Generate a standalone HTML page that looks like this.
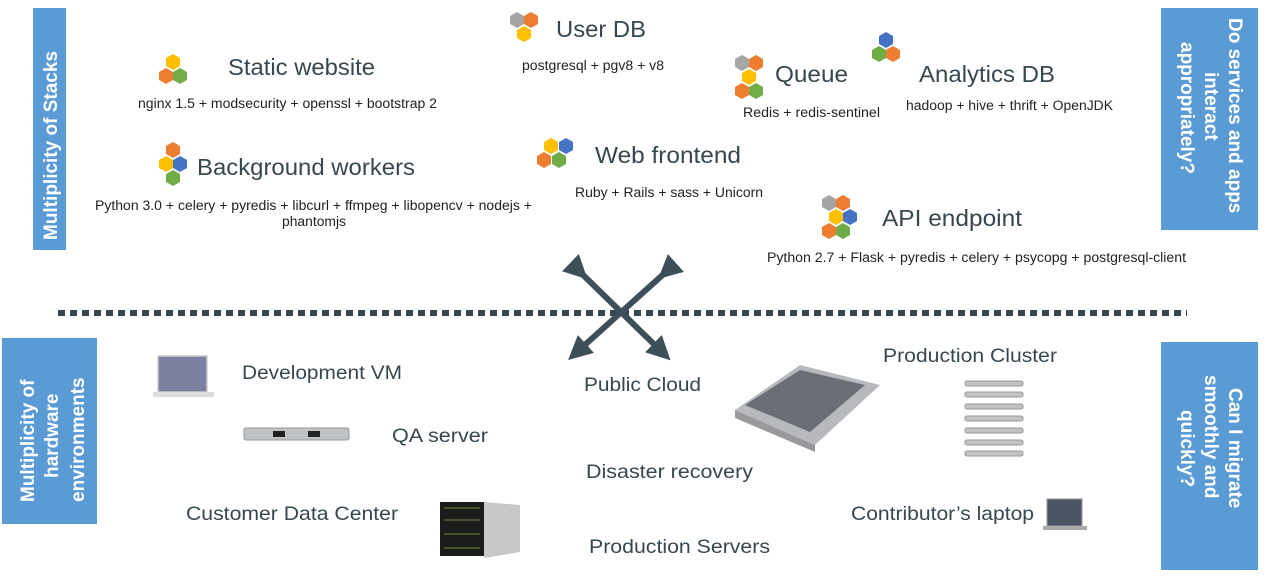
<!DOCTYPE html>
<html><head><meta charset="utf-8"><style>
html,body{margin:0;padding:0;background:#fff;}
svg{display:block;font-family:"Liberation Sans",Arial,sans-serif;}
.t{font-size:23px;fill:#37474f;}
.s{font-size:13.5px;fill:#222;}
.h{font-size:19.5px;fill:#37474f;}
.w{font-size:19px;fill:#fff;font-weight:bold;}
</style></head><body>
<svg width="1267" height="582" viewBox="0 0 1267 582">
<defs>
<polygon id="hx" points="0,-8 7,-4 7,4 0,8 -7,4 -7,-4"/>
<marker id="ah" markerWidth="4" markerHeight="4" refX="2" refY="2" orient="auto" markerUnits="strokeWidth"><path d="M0,0 L4,2 L0,4 z" fill="#3d5059"/></marker>
</defs>
<rect x="33" y="8" width="33" height="242" fill="#5b9bd5"/>
<text class="w" transform="translate(57,240) rotate(-90)">Multiplicity of Stacks</text>
<rect x="2" y="338" width="95" height="186" fill="#5b9bd5"/>
<text class="w" transform="translate(34,502) rotate(-90)">Multiplicity of</text>
<text class="w" transform="translate(58,478) rotate(-90)">hardware</text>
<text class="w" transform="translate(84,502) rotate(-90)">environments</text>
<rect x="1161" y="8" width="97" height="222" fill="#5b9bd5"/>
<text class="w" transform="translate(1229,18) rotate(90)">Do services and apps</text>
<text class="w" transform="translate(1205,72) rotate(90)">interact</text>
<text class="w" transform="translate(1181,42) rotate(90)">appropriately?</text>
<rect x="1161" y="342" width="97" height="228" fill="#5b9bd5"/>
<text class="w" transform="translate(1229,388) rotate(90)">Can I migrate</text>
<text class="w" transform="translate(1205,375) rotate(90)">smoothly and</text>
<text class="w" transform="translate(1181,410) rotate(90)">quickly?</text>

<g>
<use href="#hx" x="173" y="62" fill="#ffc000"/><use href="#hx" x="166" y="76" fill="#ed7d31"/><use href="#hx" x="180" y="76" fill="#70ad47"/>
<use href="#hx" x="517" y="20" fill="#a5a5a5"/><use href="#hx" x="531" y="20" fill="#ed7d31"/><use href="#hx" x="524" y="34" fill="#ffc000"/>
<use href="#hx" x="742" y="63" fill="#a5a5a5"/><use href="#hx" x="756" y="63" fill="#ed7d31"/><use href="#hx" x="749" y="77" fill="#ffc000"/><use href="#hx" x="742" y="91" fill="#ed7d31"/><use href="#hx" x="756" y="91" fill="#70ad47"/>
<use href="#hx" x="886" y="40" fill="#4472c4"/><use href="#hx" x="879" y="54" fill="#70ad47"/><use href="#hx" x="893" y="54" fill="#ed7d31"/>
<use href="#hx" x="173" y="150" fill="#ed7d31"/><use href="#hx" x="166" y="164" fill="#ffc000"/><use href="#hx" x="180" y="164" fill="#4472c4"/><use href="#hx" x="173" y="178" fill="#70ad47"/>
<use href="#hx" x="551" y="146" fill="#ffc000"/><use href="#hx" x="566" y="146" fill="#4472c4"/><use href="#hx" x="544" y="160" fill="#ed7d31"/><use href="#hx" x="559" y="160" fill="#70ad47"/>
<use href="#hx" x="829" y="203" fill="#a5a5a5"/><use href="#hx" x="843" y="203" fill="#ed7d31"/><use href="#hx" x="836" y="217" fill="#ffc000"/><use href="#hx" x="850" y="217" fill="#4472c4"/><use href="#hx" x="829" y="231" fill="#ed7d31"/><use href="#hx" x="843" y="231" fill="#70ad47"/>
</g>

<g lengthAdjust="spacingAndGlyphs">
<text class="t" x="228" y="75" textLength="147" lengthAdjust="spacingAndGlyphs">Static website</text>
<text class="s" x="138" y="108" textLength="299" lengthAdjust="spacingAndGlyphs">nginx 1.5 + modsecurity + openssl + bootstrap 2</text>
<text class="t" x="556" y="37" textLength="90" lengthAdjust="spacingAndGlyphs">User DB</text>
<text class="s" x="522" y="70" textLength="142" lengthAdjust="spacingAndGlyphs">postgresql + pgv8 + v8</text>
<text class="t" x="775" y="82" textLength="73" lengthAdjust="spacingAndGlyphs">Queue</text>
<text class="s" x="743" y="117" textLength="137" lengthAdjust="spacingAndGlyphs">Redis + redis-sentinel</text>
<text class="t" x="919" y="82" textLength="136" lengthAdjust="spacingAndGlyphs">Analytics DB</text>
<text class="s" x="906" y="110" textLength="207" lengthAdjust="spacingAndGlyphs">hadoop + hive + thrift + OpenJDK</text>
<text class="t" x="197" y="175" textLength="218" lengthAdjust="spacingAndGlyphs">Background workers</text>
<text class="s" x="95" y="210" textLength="437" lengthAdjust="spacingAndGlyphs">Python 3.0 + celery + pyredis + libcurl + ffmpeg + libopencv + nodejs +</text>
<text class="s" x="282" y="226" textLength="64" lengthAdjust="spacingAndGlyphs">phantomjs</text>
<text class="t" x="595" y="163" textLength="146" lengthAdjust="spacingAndGlyphs">Web frontend</text>
<text class="s" x="575" y="197" textLength="188" lengthAdjust="spacingAndGlyphs">Ruby + Rails + sass + Unicorn</text>
<text class="t" x="882" y="226" textLength="140" lengthAdjust="spacingAndGlyphs">API endpoint</text>
<text class="s" x="767" y="262" textLength="419" lengthAdjust="spacingAndGlyphs">Python 2.7 + Flask + pyredis + celery + psycopg + postgresql-client</text>
</g>

<line x1="58" y1="313" x2="1187" y2="313" stroke="#37474f" stroke-width="6" stroke-dasharray="7,5"/>

<line x1="579" y1="271" x2="662" y2="352" stroke="#3d5059" stroke-width="6" marker-start="url(#ah)" marker-end="url(#ah)"/>
<line x1="667" y1="271" x2="577" y2="352" stroke="#3d5059" stroke-width="6" marker-start="url(#ah)" marker-end="url(#ah)"/>

<text class="h" x="242" y="379" textLength="160" lengthAdjust="spacingAndGlyphs">Development VM</text>
<text class="h" x="392" y="442" textLength="96" lengthAdjust="spacingAndGlyphs">QA server</text>
<text class="h" x="186" y="520" textLength="212" lengthAdjust="spacingAndGlyphs">Customer Data Center</text>
<text class="h" x="584" y="391" textLength="117" lengthAdjust="spacingAndGlyphs">Public Cloud</text>
<text class="h" x="586" y="478" textLength="167" lengthAdjust="spacingAndGlyphs">Disaster recovery</text>
<text class="h" x="589" y="553" textLength="181" lengthAdjust="spacingAndGlyphs">Production Servers</text>
<text class="h" x="883" y="362" textLength="174" lengthAdjust="spacingAndGlyphs">Production Cluster</text>
<text class="h" x="851" y="520" textLength="183" lengthAdjust="spacingAndGlyphs">Contributor’s laptop</text>

<rect x="158" y="356" width="49" height="36" fill="#7b7fa0" stroke="#ccc" stroke-width="1.5"/>
<rect x="153" y="392" width="61" height="5" fill="#ddd"/>
<rect x="244" y="428" width="105" height="12" rx="2" fill="#bfc3c6" stroke="#999"/>
<rect x="273" y="431" width="12" height="6" fill="#222"/><rect x="308" y="431" width="12" height="6" fill="#222"/>
<rect x="440" y="502" width="44" height="54" fill="#1c1c1c"/>
<polygon points="484,502 520,505 520,552 484,558" fill="#c8c8c8"/>
<g stroke="#6a8a3a" stroke-width="1"><line x1="444" y1="508" x2="480" y2="508"/><line x1="444" y1="520" x2="480" y2="520"/><line x1="444" y1="534" x2="480" y2="534"/><line x1="444" y1="548" x2="480" y2="548"/></g>
<polygon points="735,410 800,365 880,385 815,445" fill="#b8b9be"/>
<polygon points="745,405 800,370 865,385 810,432" fill="#6a6f76"/>
<polygon points="735,410 815,445 815,452 735,418" fill="#999"/>
<g fill="#bfc3c6" stroke="#999">
<rect x="965" y="381" width="58" height="5" rx="2"/><rect x="965" y="392" width="58" height="5" rx="2"/><rect x="965" y="404" width="58" height="5" rx="2"/><rect x="965" y="416" width="58" height="5" rx="2"/><rect x="965" y="428" width="58" height="5" rx="2"/><rect x="965" y="440" width="58" height="5" rx="2"/><rect x="965" y="451" width="58" height="5" rx="2"/>
</g>
<rect x="1047" y="499" width="35" height="27" fill="#4b5563" stroke="#999"/>
<rect x="1043" y="526" width="44" height="4" fill="#aaa"/>
</svg>
</body></html>
